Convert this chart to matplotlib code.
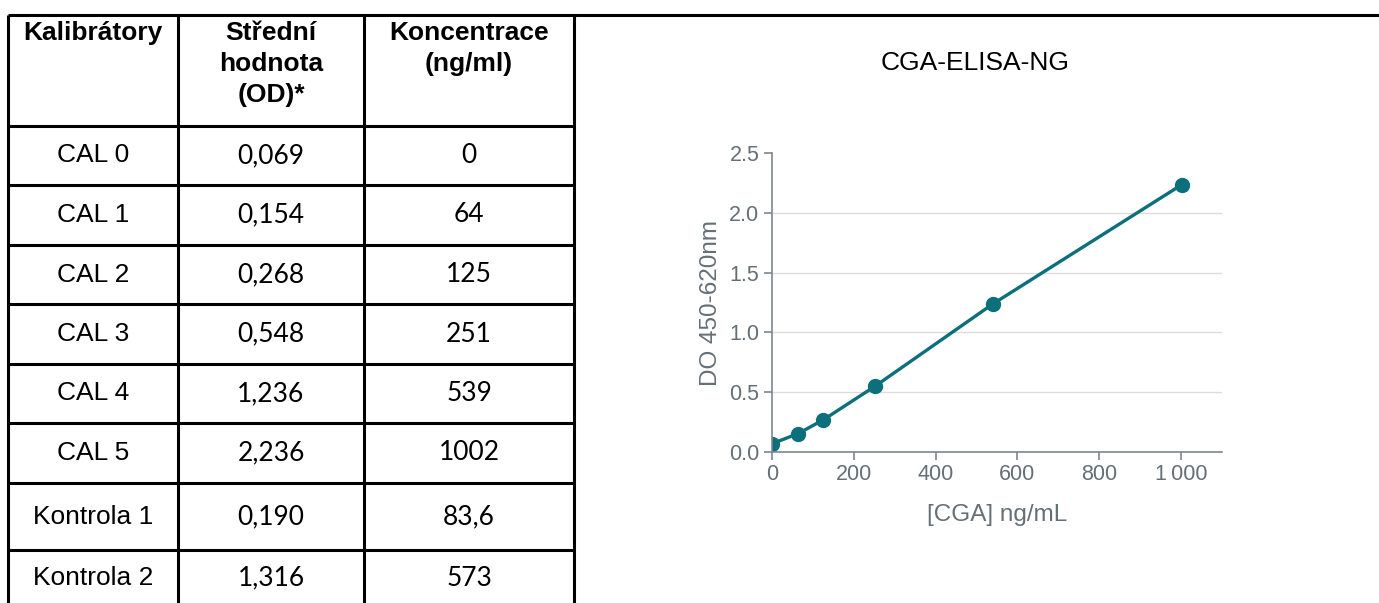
'''     calibration table and standard curve for CGA-ELISA-NG     '''

import matplotlib.pyplot as plt
from matplotlib.ticker import FuncFormatter

# table contents
header = ['Kalibrátory', 'Střední\nhodnota\n(OD)*', 'Koncentrace\n(ng/ml)']
names = ['CAL 0', 'CAL 1', 'CAL 2', 'CAL 3', 'CAL 4', 'CAL 5', 'Kontrola 1', 'Kontrola 2']
od_text = ['0,069', '0,154', '0,268', '0,548', '1,236', '2,236', '0,190', '1,316']
conc_text = ['0', '64', '125', '251', '539', '1002', '83,6', '573']

# calibrators plotted on the curve (CAL 0 .. CAL 5)
cal_conc = [0, 64, 125, 251, 539, 1002]
cal_od = [0.069, 0.154, 0.268, 0.548, 1.236, 2.236]

teal = '#0b6f7c'
grey = '#646f76'

W, H = 1379, 603
fig = plt.figure(figsize=(W / 100, H / 100), dpi=100)

# table drawn in pixel units on a full-figure axes
tab = fig.add_axes([0, 0, 1, 1])
tab.set_xlim(0, W)
tab.set_ylim(H, 0)
tab.axis('off')

col_edges = [8, 178, 364, 574]
row_edges = [15, 126, 185, 245, 304, 364, 423, 483, 550, 617]

tab.hlines(row_edges[0], col_edges[0], W, color='black', lw=2.2)
tab.hlines(row_edges[1:-1], col_edges[0], col_edges[-1], color='black', lw=2.2)
tab.vlines(col_edges, row_edges[0], H, color='black', lw=2.2)

sans = 'Liberation Sans'
narrow = ['Liberation Sans Narrow', 'Liberation Sans']
calib = 'Lato'

for j, h in enumerate(header):
    xc = (col_edges[j] + col_edges[j + 1]) / 2
    tab.text(xc, row_edges[0] + 6, h, ha='center', va='top', fontsize=19,
             fontweight='bold', family=sans, linespacing=1.38)

for i in range(len(names)):
    yc = (row_edges[i + 1] + row_edges[i + 2]) / 2
    if i == len(names) - 1:
        yc = 578
    cols = [(names[i], sans), (od_text[i], calib), (conc_text[i], calib)]
    for j, (s, fam) in enumerate(cols):
        xc = (col_edges[j] + col_edges[j + 1]) / 2
        tab.text(xc, yc, s, ha='center', va='center', fontsize=19, family=fam)

# standard curve
ax = fig.add_axes([772 / W, 1 - 452 / H, 450 / W, 299 / H])
ax.plot(cal_conc, cal_od, '-', color=teal, lw=2.4, marker='o', ms=10,
        markerfacecolor=teal, markeredgecolor=teal)
ax.set_xlim(0, 1100)
ax.set_ylim(0, 2.5)
ax.set_xticks([0, 200, 400, 600, 800, 1000])
ax.set_yticks([0, 0.5, 1.0, 1.5, 2.0, 2.5])
ax.xaxis.set_major_formatter(FuncFormatter(lambda v, p: f'{int(v):,}'.replace(',', '\u2009')))
ax.yaxis.set_major_formatter(FuncFormatter(lambda v, p: f'{v:.1f}'))

ax.grid(axis='y', color='#dcdcdc', lw=1)
ax.yaxis.get_gridlines()[-1].set_visible(False)
ax.set_axisbelow(True)
for s in ['top', 'right']:
    ax.spines[s].set_visible(False)
for s in ['left', 'bottom']:
    ax.spines[s].set_color('#7d878d')
    ax.spines[s].set_linewidth(1.2)
ax.tick_params(colors='#7d878d', labelcolor=grey, length=6, width=1.2,
               labelsize=15.5, labelfontfamily=narrow, pad=3)

ax.set_xlabel('[CGA] ng/mL', fontsize=17.5, color=grey, labelpad=13, family=sans)
ax.set_ylabel('DO 450-620nm', fontsize=17.5, color=grey, labelpad=5, family=sans)

fig.text(975 / W, 1 - 63 / H, 'CGA-ELISA-NG', ha='center', va='center',
         fontsize=19, family=sans)

fig.savefig('out.png', dpi=100)
